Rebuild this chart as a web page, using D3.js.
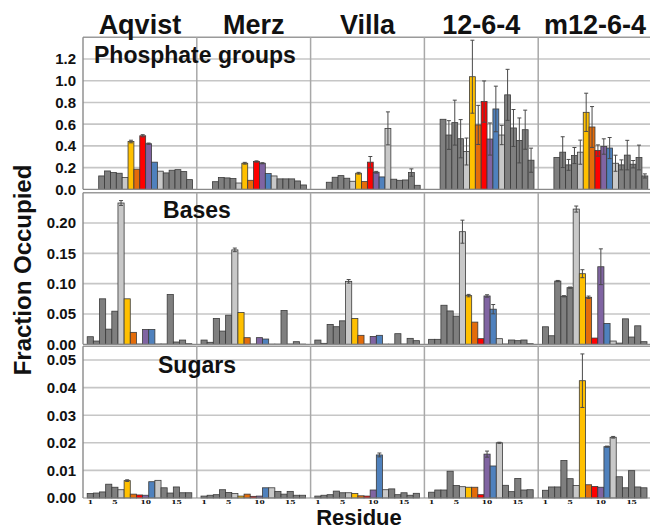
<!DOCTYPE html>
<html><head><meta charset="utf-8">
<script src="https://cdn.jsdelivr.net/npm/d3@7"></script>
<style>
body{margin:0;background:#fff}
text{font-family:Arial,"Liberation Sans",sans-serif}
</style>
</head><body><svg id="c" width="650" height="529"></svg>
<script>
// ---------- data ----------
const methods = ["Aqvist","Merz","Villa","12-6-4","m12-6-4"];
const residues = d3.range(1,18);          // bases & sugars
const phosResidues = d3.range(2,18);      // phosphate groups (no 5' phosphate)
const tickResidues = [1,5,10,15];
const phosTicks = [0,0.2,0.4,0.6,0.8,1.0,1.2];
const baseTicks = [0,0.05,0.10,0.15,0.20];
const sugarTicks = [0,0.01,0.02,0.03,0.04,0.05];
const residueColors = ["#7f7f7f","#7f7f7f","#7f7f7f","#7f7f7f","#7f7f7f","#c8c8c8","#ffc000","#e46c0a","#ff0000","#8064a2","#4f81bd","#c8c8c8","#7f7f7f","#7f7f7f","#7f7f7f","#7f7f7f","#7f7f7f"];

// Phosphate groups (residues 2-17)
const phosAqvist   = [0.123,0.169,0.154,0.148,0.108,0.440,0.185,0.493,0.420,0.250,0.167,0.151,0.176,0.181,0.163,0.089];
const phosAqvistErr= [0,0,0,0,0,0.012,0,0.010,0.006,0,0,0,0,0,0,0];
const phosMerz     = [0.070,0.108,0.105,0.099,0.058,0.240,0.083,0.256,0.240,0.145,0.123,0.096,0.096,0.096,0.077,0.040];
const phosMerzErr  = [0,0,0,0,0,0.008,0,0.006,0.005,0,0,0,0,0,0,0];
const phosVilla    = [0.065,0.111,0.126,0.102,0.074,0.148,0.071,0.250,0.157,0.114,0.561,0.093,0.083,0.086,0.154,0.037];
const phosVillaErr = [0,0,0,0,0,0.008,0,0.052,0.008,0,0.152,0,0,0,0.034,0];
const phos1264     = [0.645,0.500,0.614,0.466,0.348,1.037,0.593,0.808,0.463,0.740,0.500,0.870,0.565,0.450,0.549,0.268];
const phos1264Err  = [0,0.132,0.207,0.176,0.124,0.336,0.180,0.190,0.148,0.210,0.089,0.235,0.170,0.207,0.180,0.111];
const phosM1264    = [0.293,0.342,0.225,0.311,0.342,0.709,0.574,0.357,0.394,0.380,0.240,0.225,0.315,0.231,0.293,0.123];
const phosM1264Err = [0,0.142,0.050,0.074,0.111,0.176,0.188,0.052,0.071,0.097,0.074,0.046,0.136,0.034,0.114,0.019];

// Bases (residues 1-17)
const baseAqvist   = [0.0125,0.0054,0.075,0.025,0.0546,0.233,0.075,0.0197,0.0005,0.0245,0.0245,0.0005,0.0005,0.082,0.0038,0.007,0.001];
const baseAqvistErr= [0,0,0,0,0,0.004,0,0,0,0,0,0,0,0,0,0,0];
const baseMerz     = [0.007,0.0033,0.0426,0.0218,0.048,0.1557,0.0525,0.0109,0.0005,0.011,0.0087,0.0003,0.0003,0.0557,0.0005,0.0043,0.0003];
const baseMerzErr  = [0,0,0,0,0,0.003,0,0,0,0,0,0,0,0,0,0,0];
const baseVilla    = [0.007,0.0016,0.0328,0.029,0.0387,0.1038,0.0426,0.0148,0.0005,0.013,0.0148,0.0003,0.0003,0.0175,0.0005,0.0098,0.006];
const baseVillaErr = [0,0,0,0,0,0.003,0,0,0,0,0,0,0,0,0,0,0];
const base1264     = [0.0082,0.0082,0.0644,0.055,0.0464,0.1857,0.0803,0.0366,0.0093,0.0797,0.0579,0.0093,0.0005,0.0071,0.006,0.0071,0.001];
const base1264Err  = [0,0,0,0,0,0.019,0.002,0,0,0.002,0.0077,0,0,0,0,0,0];
const baseM1264    = [0.0289,0.0141,0.1043,0.0792,0.0934,0.223,0.1164,0.0775,0.0103,0.1279,0.0344,0.0054,0.002,0.042,0.012,0.0305,0.0043];
const baseM1264Err = [0,0,0.001,0.001,0.001,0.005,0.0066,0.002,0,0.0295,0,0,0,0,0,0,0];

// Sugars (residues 1-17)
const sugarAqvist   = [0.0016,0.0018,0.0022,0.005,0.0039,0.003,0.0063,0.0014,0.0011,0.001,0.0059,0.0064,0.0037,0.0018,0.004,0.0019,0.0019];
const sugarAqvistErr= [0,0,0,0,0,0,0.0003,0,0,0,0,0,0,0,0,0,0];
const sugarMerz     = [0.0007,0.001,0.0012,0.003,0.002,0.0016,0.0007,0.0014,0.0006,0.0007,0.0037,0.0037,0.0024,0.0014,0.0024,0.001,0.001];
const sugarMerzErr  = [0,0,0,0,0,0,0,0,0,0,0,0,0,0,0,0,0];
const sugarVilla    = [0.0007,0.001,0.0012,0.0025,0.0019,0.0019,0.0016,0.0008,0.0007,0.0029,0.0156,0.003,0.0033,0.0012,0.0019,0.001,0.0017];
const sugarVillaErr = [0,0,0,0,0,0,0,0,0,0,0.0007,0,0,0,0,0,0];
const sugar1264     = [0.0021,0.0029,0.0029,0.0097,0.0045,0.0041,0.0039,0.0039,0.0012,0.0159,0.0116,0.020,0.0046,0.0023,0.0071,0.0029,0.003];
const sugar1264Err  = [0,0,0,0,0,0,0,0,0,0.0011,0,0.0002,0,0,0,0,0];
const sugarM1264    = [0.0028,0.004,0.004,0.0136,0.007,0.0045,0.0425,0.0048,0.0042,0.0039,0.0186,0.022,0.0077,0.0037,0.0099,0.004,0.0037];
const sugarM1264Err = [0,0,0,0,0,0,0.0097,0,0,0,0.0002,0.0003,0,0,0,0,0];

// ---------- layout ----------
const svg = d3.select("#c");
svg.append("rect").attr("width",650).attr("height",529).attr("fill","#fff");
const plotLeft = 83, colW = 113.8, plotRight = 652;

const rowSpecs = [
  {label:"Phosphate groups", top:37.3, bottom:189.3, yMax:1.4, ticks:phosTicks, fmt:d3.format(".1f"),
   res:phosResidues, bandOff:[15.7,109.6],
   vals:[phosAqvist,phosMerz,phosVilla,phos1264,phosM1264],
   errs:[phosAqvistErr,phosMerzErr,phosVillaErr,phos1264Err,phosM1264Err]},
  {label:"Bases", top:192.7, bottom:344.3, yMax:0.25, ticks:baseTicks, fmt:d3.format(".2f"),
   res:residues, bandOff:[4.2,108.8],
   vals:[baseAqvist,baseMerz,baseVilla,base1264,baseM1264],
   errs:[baseAqvistErr,baseMerzErr,baseVillaErr,base1264Err,baseM1264Err]},
  {label:"Sugars", top:346.2, bottom:498, yMax:0.055, ticks:sugarTicks, fmt:d3.format(".2f"),
   res:residues, bandOff:[4.2,108.8],
   vals:[sugarAqvist,sugarMerz,sugarVilla,sugar1264,sugarM1264],
   errs:[sugarAqvistErr,sugarMerzErr,sugarVillaErr,sugar1264Err,sugarM1264Err]}
];

const colScale = d3.scaleBand().domain(methods).range([plotLeft, plotLeft+colW*5]).paddingInner(0).paddingOuter(0);

rowSpecs.forEach((row, ri) => {
  const y = d3.scaleLinear().domain([0,row.yMax]).range([row.bottom,row.top]);
  const g = svg.append("g");
  // gridlines
  g.selectAll("line.grid").data(row.ticks.filter(t=>t>0)).join("line")
    .attr("x1",plotLeft).attr("x2",plotRight)
    .attr("y1",d=>y(d)).attr("y2",d=>y(d))
    .attr("stroke","#c6c6c6").attr("stroke-width",1.6);
  // top border
  g.append("line").attr("x1",plotLeft).attr("x2",plotRight)
    .attr("y1",y(row.yMax)).attr("y2",y(row.yMax))
    .attr("stroke","#9a9a9a").attr("stroke-width",1.4);
  // column dividers
  g.selectAll("line.div").data(methods.slice(1)).join("line")
    .attr("x1",d=>colScale(d)).attr("x2",d=>colScale(d))
    .attr("y1",row.top).attr("y2",row.bottom)
    .attr("stroke","#a8a8a8").attr("stroke-width",1.5);
  // left axis line
  g.append("line").attr("x1",plotLeft).attr("x2",plotLeft)
    .attr("y1",row.top).attr("y2",row.bottom)
    .attr("stroke","#8a8a8a").attr("stroke-width",1.4);
  // y tick labels
  g.selectAll("text.yt").data(row.ticks).join("text")
    .attr("x",76).attr("y",d=>y(d)).attr("dy","0.36em")
    .attr("text-anchor","end").attr("font-size",15).attr("font-weight","bold")
    .attr("fill","#111").text(d=>row.fmt(d));

  methods.forEach((m, mi) => {
    const x0 = colScale(m);
    const x = d3.scaleBand().domain(row.res).range([x0+row.bandOff[0], x0+row.bandOff[1]]).padding(0);
    const data = row.res.map((r,i)=>({r, v:row.vals[mi][i], e:row.errs[mi][i]}));
    const cg = g.append("g");
    cg.selectAll("rect").data(data).join("rect")
      .attr("x",d=>x(d.r)).attr("width",x.bandwidth())
      .attr("y",d=>y(d.v)).attr("height",d=>row.bottom-y(d.v))
      .attr("fill",d=>residueColors[d.r-1])
      .attr("stroke","#3a3a3a").attr("stroke-width",0.8);
    const eb = data.filter(d=>d.e>0);
    const ec = "#4a4a4a";
    cg.selectAll("line.ev").data(eb).join("line")
      .attr("x1",d=>x(d.r)+x.bandwidth()/2).attr("x2",d=>x(d.r)+x.bandwidth()/2)
      .attr("y1",d=>y(Math.max(0,d.v-d.e))).attr("y2",d=>y(d.v+d.e))
      .attr("stroke",ec).attr("stroke-width",1);
    cg.selectAll("line.ct").data(eb).join("line")
      .attr("x1",d=>x(d.r)+x.bandwidth()/2-2).attr("x2",d=>x(d.r)+x.bandwidth()/2+2)
      .attr("y1",d=>y(d.v+d.e)).attr("y2",d=>y(d.v+d.e))
      .attr("stroke",ec).attr("stroke-width",1);
    cg.selectAll("line.cb").data(eb).join("line")
      .attr("x1",d=>x(d.r)+x.bandwidth()/2-2).attr("x2",d=>x(d.r)+x.bandwidth()/2+2)
      .attr("y1",d=>y(Math.max(0,d.v-d.e))).attr("y2",d=>y(Math.max(0,d.v-d.e)))
      .attr("stroke",ec).attr("stroke-width",1);
    // x tick labels on the bottom row (squat serif digits as in the reference)
    if (ri === rowSpecs.length-1) {
      cg.selectAll("text.xt").data(tickResidues).join("text")
        .attr("transform",d=>`translate(${x(d)+x.bandwidth()/2},504) scale(1,0.62)`)
        .attr("text-anchor","middle").attr("font-size",10.5).attr("font-weight","bold")
        .style("font-family","'Liberation Serif','DejaVu Serif',serif")
        .attr("fill","#111").text(d=>d);
    }
  });
  // baseline
  g.append("line").attr("x1",plotLeft).attr("x2",plotRight)
    .attr("y1",row.bottom).attr("y2",row.bottom)
    .attr("stroke","#8a8a8a").attr("stroke-width",1.2);
});

// panel labels
svg.append("text").attr("x",94).attr("y",63).attr("font-size",23).attr("font-weight","bold")
  .attr("fill","#111").text(rowSpecs[0].label);
svg.append("text").attr("x",197).attr("y",218).attr("text-anchor","middle").attr("font-size",23)
  .attr("font-weight","bold").attr("fill","#111").text(rowSpecs[1].label);
svg.append("text").attr("x",197).attr("y",372.5).attr("text-anchor","middle").attr("font-size",23)
  .attr("font-weight","bold").attr("fill","#111").text(rowSpecs[2].label);

// column headers
svg.selectAll("text.hdr").data(methods).join("text")
  .attr("x",d=>colScale(d)+colW/2).attr("y",34)
  .attr("text-anchor","middle").attr("font-size",27).attr("font-weight","bold")
  .attr("fill","#111").text(d=>d);

// axis titles
svg.append("text").attr("transform","translate(31,270) rotate(-90)")
  .attr("text-anchor","middle").attr("font-size",24).attr("font-weight","bold")
  .attr("fill","#111").text("Fraction Occupied");
svg.append("text").attr("x",359).attr("y",524.5).attr("text-anchor","middle")
  .attr("font-size",22).attr("font-weight","bold").attr("fill","#111").text("Residue");
</script>
</body></html>
